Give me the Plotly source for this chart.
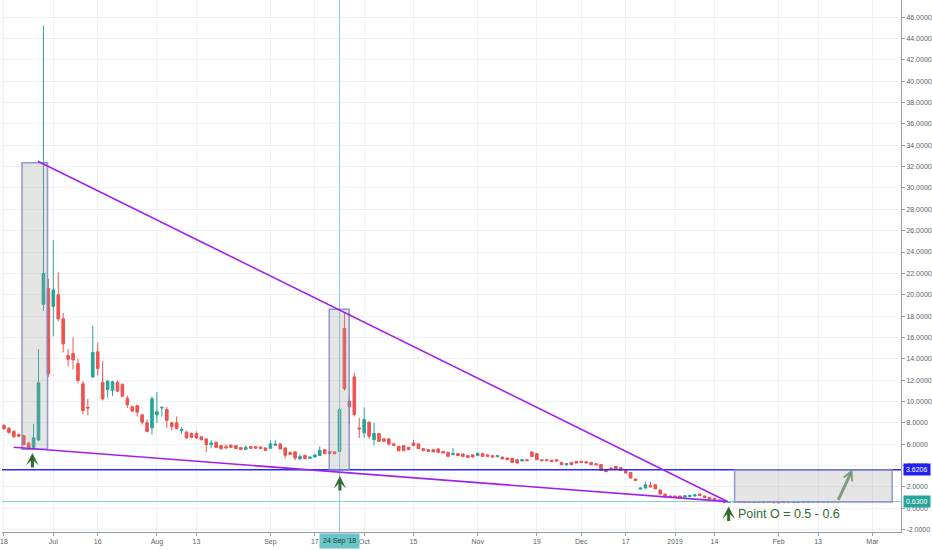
import numpy as np
import pandas as pd
import plotly.graph_objects as go

# ---------------- data (daily candles, trading days from 18 Jun 2018) ----------------
START_DATE = "2018-06-18"
HOLIDAYS = ["2018-07-04", "2018-09-03", "2018-11-22", "2018-12-05", "2018-12-25",
            "2019-01-01", "2019-01-21", "2019-02-18"]

opens = [
    7.75, 7.5, 7.2, 6.9, 6.8, 6.1, 5.7, 6.4, 19.1, 20.6,
    18.9, 20.0, 17.75, 14.3, 14.5, 13.55, 11.66, 9.47, 12.3, 14.65,
    11.8, 11.1, 11.05, 11.8, 11.6, 10.3, 9.5, 9.6, 8.75, 8.0,
    7.53, 8.75, 9.4, 9.25, 8.0, 8.0, 7.28, 7.15, 7.0, 7.0,
    6.69, 6.5, 5.96, 6.18, 5.87, 5.77, 5.9, 5.87, 5.68, 5.52,
    5.77, 5.77, 5.74, 5.65, 5.62, 5.9, 6.03, 5.65, 5.21, 5.28,
    4.62, 4.96, 4.68, 4.8, 4.93, 5.49, 5.3, 5.28, 5.33, 16.85,
    10.03, 12.3, 7.53, 7.06, 8.06, 6.43, 7.0, 6.5, 6.5, 6.03,
    5.8, 5.87, 5.71, 6.12, 6.03, 5.59, 5.49, 5.49, 5.56, 5.33,
    5.24, 5.02, 5.12, 5.09, 4.93, 5.0, 4.93, 5.12, 5.0, 4.93,
    4.83, 4.8, 4.71, 4.68, 4.55, 4.43, 4.55, 5.28, 5.12, 4.55,
    4.55, 4.5, 4.55, 4.3, 4.08, 4.3, 4.4, 4.4, 4.37, 4.3,
    4.18, 4.11, 3.62, 3.77, 3.93, 3.8, 3.62, 3.36, 2.74, 1.8,
    1.9, 2.14, 2.2, 1.71, 1.33, 1.15, 1.15, 1.15, 1.05, 1.1,
    1.15, 1.33, 1.15, 1.02, 0.93, 0.78, 0.68, 0.55, 0.58, 0.62,
    0.6, 0.6, 0.58, 0.55, 0.6, 0.58, 0.57, 0.56, 0.53, 0.57,
    0.54, 0.56, 0.6, 0.56, 0.58, 0.61, 0.58, 0.6, 0.64, 0.6,
]
highs = [
    7.9, 7.6, 7.3, 7.0, 6.9, 6.2, 7.9, 14.9, 45.2, 21.5,
    25.1, 22.1, 18.3, 14.9, 16.0, 14.0, 11.9, 10.25, 17.1, 15.5,
    13.8, 12.0, 11.95, 11.95, 11.7, 10.55, 9.6, 9.7, 8.85, 8.3,
    10.5, 10.9, 9.55, 9.5, 8.1, 8.6, 7.6, 7.2, 7.1, 7.2,
    6.75, 6.55, 6.4, 6.25, 5.95, 6.0, 6.0, 5.9, 5.75, 5.9,
    5.85, 5.8, 5.8, 5.7, 6.37, 6.37, 6.1, 5.7, 5.3, 5.35,
    5.05, 5.0, 4.85, 5.05, 5.8, 5.55, 5.35, 5.3, 9.56, 18.3,
    10.56, 12.7, 8.47, 9.46, 8.15, 8.0, 7.05, 6.55, 6.55, 6.1,
    5.85, 5.9, 5.75, 6.43, 6.1, 5.62, 5.52, 5.52, 5.6, 5.36,
    5.27, 5.65, 5.15, 5.12, 4.96, 5.03, 5.2, 5.15, 5.03, 4.96,
    4.96, 4.83, 4.74, 4.71, 4.58, 4.58, 4.58, 5.35, 5.15, 4.58,
    4.58, 4.53, 4.58, 4.33, 4.21, 4.33, 4.43, 4.43, 4.4, 4.33,
    4.21, 4.14, 3.65, 3.8, 3.96, 3.83, 3.65, 3.39, 2.77, 1.95,
    2.5, 2.5, 2.25, 1.74, 1.36, 1.18, 1.18, 1.18, 1.21, 1.24,
    1.3, 1.36, 1.18, 1.05, 0.96, 0.81, 0.71, 0.65, 0.64, 0.64,
    0.62, 0.62, 0.6, 0.62, 0.62, 0.6, 0.59, 0.58, 0.59, 0.59,
    0.6, 0.62, 0.62, 0.62, 0.63, 0.63, 0.64, 0.66, 0.66, 0.65,
]
lows = [
    7.35, 7.0, 6.6, 6.65, 5.9, 5.5, 5.6, 6.3, 18.5, 12.3,
    16.1, 17.5, 14.6, 13.3, 13.0, 11.7, 8.8, 8.7, 12.2, 12.4,
    10.1, 10.35, 10.5, 10.9, 10.4, 9.4, 9.0, 8.6, 7.84, 7.1,
    6.9, 8.0, 8.56, 7.53, 7.3, 7.4, 7.0, 6.5, 6.55, 6.5,
    6.35, 5.28, 5.6, 5.65, 5.45, 5.6, 5.65, 5.55, 5.45, 5.5,
    5.6, 5.6, 5.55, 5.35, 5.55, 5.85, 5.5, 4.7, 5.0, 4.5,
    4.55, 4.6, 4.6, 4.75, 4.9, 5.05, 5.1, 5.05, 5.25, 11.0,
    7.84, 8.6, 6.59, 6.59, 6.5, 5.87, 6.2, 6.2, 5.85, 5.85,
    5.35, 5.35, 5.45, 5.85, 5.55, 5.35, 5.3, 5.25, 5.2, 5.15,
    4.83, 4.98, 4.9, 4.83, 4.74, 4.77, 4.9, 4.83, 4.83, 4.77,
    4.8, 4.59, 4.52, 4.27, 4.21, 4.4, 4.43, 4.83, 4.52, 4.43,
    4.43, 4.34, 4.4, 4.05, 3.95, 4.05, 4.21, 4.27, 4.21, 4.05,
    4.05, 3.52, 3.4, 3.59, 3.65, 3.52, 3.27, 2.8, 2.57, 1.75,
    1.85, 1.95, 1.8, 1.3, 1.12, 0.99, 0.99, 0.99, 1.02, 1.07,
    1.12, 1.15, 0.97, 0.83, 0.75, 0.59, 0.5, 0.52, 0.56, 0.55,
    0.53, 0.54, 0.52, 0.53, 0.53, 0.52, 0.51, 0.5, 0.51, 0.52,
    0.52, 0.54, 0.54, 0.54, 0.56, 0.56, 0.56, 0.58, 0.58, 0.58,
]
closes = [
    7.45, 7.1, 6.7, 6.75, 5.96, 5.55, 6.6, 11.75, 22.0, 12.6,
    20.45, 17.75, 15.4, 13.95, 13.9, 11.97, 9.15, 9.4, 14.6, 13.1,
    10.25, 11.9, 11.85, 10.97, 10.5, 9.7, 9.1, 9.0, 8.06, 7.2,
    10.25, 9.03, 9.45, 8.24, 7.65, 7.46, 7.37, 6.59, 6.65, 6.59,
    6.43, 5.96, 6.12, 5.71, 5.59, 5.65, 5.71, 5.59, 5.52, 5.71,
    5.62, 5.62, 5.59, 5.43, 6.03, 6.03, 5.56, 4.96, 5.05, 4.71,
    4.86, 4.65, 4.8, 5.0, 5.43, 5.12, 5.14, 5.12, 9.25, 11.2,
    9.5, 8.78, 7.44, 8.31, 6.74, 7.0, 6.27, 6.27, 6.03, 5.9,
    5.4, 5.4, 5.49, 5.87, 5.59, 5.4, 5.33, 5.28, 5.24, 5.18,
    4.86, 5.12, 4.93, 4.86, 4.77, 4.8, 5.15, 4.86, 4.86, 4.8,
    4.93, 4.62, 4.55, 4.3, 4.24, 4.55, 4.46, 4.86, 4.55, 4.46,
    4.46, 4.37, 4.43, 4.08, 4.18, 4.08, 4.24, 4.3, 4.24, 4.08,
    4.08, 3.55, 3.43, 3.62, 3.68, 3.55, 3.3, 2.83, 2.6, 1.9,
    2.2, 1.99, 1.83, 1.33, 1.15, 1.02, 1.02, 1.02, 1.18, 1.21,
    1.27, 1.18, 1.0, 0.86, 0.78, 0.62, 0.53, 0.62, 0.62, 0.57,
    0.55, 0.56, 0.54, 0.6, 0.55, 0.54, 0.53, 0.52, 0.57, 0.54,
    0.58, 0.6, 0.56, 0.6, 0.61, 0.58, 0.62, 0.64, 0.6, 0.63,
]

# x-axis tick labels
tick_dates = ["2018-06-18", "2018-07-02", "2018-07-16", "2018-08-01", "2018-08-13",
              "2018-09-04", "2018-09-17", "2018-10-01", "2018-10-15", "2018-11-01",
              "2018-11-19", "2018-12-03", "2018-12-17", "2019-01-02", "2019-01-14",
              "2019-02-01", "2019-02-13", "2019-03-01"]
tick_text = ["18", "Jul", "16", "Aug", "13", "Sep", "17", "Oct", "15", "Nov",
             "19", "Dec", "17", "2019", "14", "Feb", "13", "Mar"]
y_ticks = list(range(-2, 47, 2))

# drawing anchors (bar index, price)
box_x0 = [3.66, 65.92, 148.08]
box_x1 = [8.83, 69.96, 180.0]
box_lo = [5.52, 3.59, 0.59]
box_hi = [32.36, 18.63, 3.6206]
upper_trend = [(6.87, 32.5), (146.7, 0.62)]
lower_trend = [(1.96, 5.71), (146.7, 0.62)]
level_blue = 3.6206
level_last = 0.63
up_arrows = [(5.76, 5.18), (68.08, 3.02), (146.87, 0.17)]
target_arrow = (171.98, 3.65)
note_pos = (148.3, -0.53)
note_text = "Point O = 0.5 - 0.6"
cross_idx = 68
cross_label = "24 Sep '18"
x_view = (-0.4, 181.8)
y_view = (-2.22, 47.6)

# ---------------- calendar helper ----------------
cal = pd.bdate_range("2018-06-04", "2019-04-30")
cal = cal[~cal.isin(pd.to_datetime(HOLIDAYS))]
BASE = int(np.where(cal == pd.Timestamp(START_DATE))[0][0])


def at(i):
    k = int(np.floor(i))
    f = i - k
    return (cal[BASE + k] + pd.Timedelta(days=f)).strftime("%Y-%m-%d %H:%M:%S")


n = min(len(opens), len(highs), len(lows), len(closes))
dates = [at(i) for i in range(n)]

UP = "#26a69a"
DOWN = "#ef5350"
PURPLE = "#a020f0"
GREEN = "#2f6b31"
FONT = "Liberation Sans, Arial, sans-serif"

fig = go.Figure()
fig.add_trace(go.Candlestick(
    x=dates, open=opens[:n], high=highs[:n], low=lows[:n], close=closes[:n],
    increasing=dict(line=dict(color=UP, width=1), fillcolor=UP),
    decreasing=dict(line=dict(color=DOWN, width=1), fillcolor=DOWN),
    whiskerwidth=0, hoverinfo="skip",
))

shapes = []
# crosshair vertical line
shapes.append(dict(type="line", xref="x", yref="paper", x0=at(cross_idx), x1=at(cross_idx),
                   y0=0, y1=1, line=dict(color="#8fd0d6", width=1), layer="above"))
# horizontal levels
shapes.append(dict(type="line", xref="paper", yref="y", x0=0, x1=1, y0=level_last, y1=level_last,
                   line=dict(color="#86cfc8", width=1), layer="above"))
shapes.append(dict(type="line", xref="paper", yref="y", x0=0, x1=1, y0=level_blue, y1=level_blue,
                   line=dict(color="#2b2bf5", width=1.5), layer="above"))
# boxes
for a, b, lo, hi in zip(box_x0, box_x1, box_lo, box_hi):
    shapes.append(dict(type="rect", xref="x", yref="y", x0=at(a), x1=at(b), y0=lo, y1=hi,
                       fillcolor="rgba(150,150,150,0.25)",
                       line=dict(color="rgba(128,136,200,0.85)", width=1.5), layer="above"))
# trend lines
for tl in (upper_trend, lower_trend):
    shapes.append(dict(type="line", xref="x", yref="y", x0=at(tl[0][0]), y0=tl[0][1],
                       x1=at(tl[1][0]), y1=tl[1][1], line=dict(color=PURPLE, width=1.6),
                       layer="above"))

annotations = []
for (ix, py) in up_arrows:
    annotations.append(dict(x=at(ix), y=py, xref="x", yref="y", text="", showarrow=True,
                            ax=0, ay=16, arrowhead=3, arrowsize=0.7, arrowwidth=3,
                            arrowcolor=GREEN))
annotations.append(dict(x=at(target_arrow[0]), y=target_arrow[1], xref="x", yref="y", text="",
                        showarrow=True, ax=-15, ay=32, arrowhead=5, arrowsize=0.6,
                        arrowwidth=3, arrowcolor="#7d9c7d"))
annotations.append(dict(x=at(note_pos[0]), y=note_pos[1], xref="x", yref="y", text=note_text,
                        showarrow=False, xanchor="left", yanchor="middle",
                        font=dict(family=FONT, size=12.5, color=GREEN)))
# price labels on the scale
annotations.append(dict(x=1, y=level_blue, xref="paper", yref="y", text=f"{level_blue:.4f}",
                        showarrow=False, xanchor="left", yanchor="middle", xshift=2,
                        bgcolor="#1f1ff0", borderpad=2,
                        font=dict(family=FONT, size=7, color="white")))
annotations.append(dict(x=1, y=level_last, xref="paper", yref="y", text=f"{level_last:.4f}",
                        showarrow=False, xanchor="left", yanchor="middle", xshift=2,
                        bgcolor="#26a69a", borderpad=2,
                        font=dict(family=FONT, size=7, color="white")))
# crosshair date label
annotations.append(dict(x=at(cross_idx), y=0, xref="x", yref="paper", text=cross_label,
                        showarrow=False, xanchor="center", yanchor="top", yshift=-1,
                        bgcolor="#6cc4c8", borderpad=3,
                        font=dict(family=FONT, size=7, color="#123c3d")))

fig.update_layout(
    width=932, height=550,
    margin=dict(l=0, r=30, t=0, b=18),
    plot_bgcolor="white", paper_bgcolor="white",
    showlegend=False, boxgap=0.25,
    font=dict(family=FONT, size=7, color="#5d606b"),
    shapes=shapes, annotations=annotations,
    hovermode=False,
)
fig.update_xaxes(
    type="date", range=[at(x_view[0]), at(x_view[1])],
    rangebreaks=[dict(bounds=["sat", "mon"]), dict(values=HOLIDAYS)],
    rangeslider_visible=False,
    tickvals=tick_dates, ticktext=tick_text,
    ticklabeloverflow="allow",
    showgrid=True, gridcolor="#eef1f6", gridwidth=1,
    showline=True, linecolor="#9a9ea8", linewidth=1,
    ticks="outside", ticklen=3, tickcolor="#9a9ea8",
    tickfont=dict(family=FONT, size=7, color="#5d606b"),
    zeroline=False,
)
fig.update_yaxes(
    side="right", range=list(y_view),
    tickvals=y_ticks, ticktext=[f"{v:.4f}" for v in y_ticks],
    showgrid=True, gridcolor="#eef1f6", gridwidth=1,
    showline=True, linecolor="#9a9ea8", linewidth=1,
    ticks="outside", ticklen=3, tickcolor="#9a9ea8",
    tickfont=dict(family=FONT, size=7, color="#5d606b"),
    zeroline=False,
)

fig.write_html(
    "out.html",
    config={"displayModeBar": False},
    post_script="document.body.style.margin='0px';document.body.style.overflow='hidden';",
)
